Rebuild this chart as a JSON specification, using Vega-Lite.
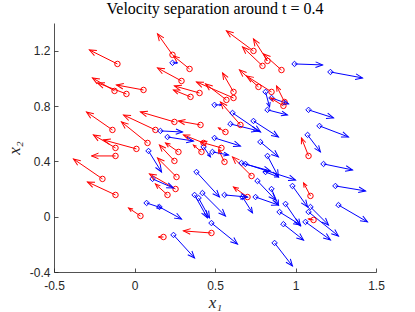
{
  "$schema": "https://vega.github.io/schema/vega-lite/v6.json",
  "width": 322,
  "height": 249,
  "autosize": {"type": "none"},
  "padding": {"left": 54, "top": 23, "right": 39, "bottom": 40},
  "title": {"text": "Velocity separation around t = 0.4", "font": "Liberation Serif", "fontSize": 16, "fontWeight": "normal", "color": "#000000", "offset": 6},
  "config": {
    "view": {"stroke": null},
    "axis": {
      "grid": false,
      "domainColor": "#262626",
      "domainWidth": 0.8,
      "tickColor": "#262626",
      "tickWidth": 0.8,
      "tickSize": -4,
      "labelFont": "Liberation Sans",
      "labelFontSize": 12,
      "labelColor": "#262626",
      "labelOverlap": false,
      "labelFlush": false,
      "titleFont": "Liberation Serif",
      "titleFontStyle": "italic",
      "titleFontWeight": "normal",
      "titleFontSize": 17,
      "titleColor": "#262626",
      "labelExpr": "replace(format(datum.value, '~g'), '−', '-')"
    }
  },
  "data": {"values": [
    {"g":"r","x":-0.106,"y":1.104,"x2":-0.280,"y2":1.205},
    {"g":"r","x":0.236,"y":1.170,"x2":0.143,"y2":1.322},
    {"g":"r","x":0.342,"y":1.068,"x2":0.242,"y2":1.162},
    {"g":"r","x":0.292,"y":0.981,"x2":0.143,"y2":1.075},
    {"g":"r","x":0.056,"y":0.916,"x2":-0.112,"y2":0.952},
    {"g":"r","x":-0.124,"y":0.909,"x2":-0.261,"y2":1.003},
    {"g":"r","x":-0.050,"y":0.887,"x2":-0.230,"y2":0.967},
    {"g":"r","x":0.404,"y":0.894,"x2":0.248,"y2":0.945},
    {"g":"r","x":0.348,"y":0.866,"x2":0.242,"y2":0.916},
    {"g":"r","x":0.739,"y":1.198,"x2":0.571,"y2":1.343},
    {"g":"r","x":0.795,"y":1.090,"x2":0.671,"y2":1.227},
    {"g":"r","x":0.826,"y":1.126,"x2":0.739,"y2":1.285},
    {"g":"r","x":0.913,"y":1.060,"x2":0.801,"y2":1.176},
    {"g":"r","x":0.770,"y":0.938,"x2":0.652,"y2":1.061},
    {"g":"r","x":0.851,"y":0.902,"x2":0.696,"y2":1.017},
    {"g":"r","x":0.615,"y":0.902,"x2":0.547,"y2":1.039},
    {"g":"r","x":0.615,"y":0.858,"x2":0.385,"y2":0.974},
    {"g":"r","x":0.571,"y":0.844,"x2":0.441,"y2":0.960},
    {"g":"r","x":-0.137,"y":0.627,"x2":-0.298,"y2":0.757},
    {"g":"r","x":0.130,"y":0.627,"x2":-0.068,"y2":0.735},
    {"g":"r","x":0.081,"y":0.533,"x2":-0.081,"y2":0.685},
    {"g":"r","x":0.248,"y":0.685,"x2":0.037,"y2":0.757},
    {"g":"r","x":0.410,"y":0.663,"x2":0.273,"y2":0.692},
    {"g":"r","x":-0.118,"y":0.497,"x2":-0.255,"y2":0.591},
    {"g":"r","x":0.012,"y":0.490,"x2":-0.193,"y2":0.555},
    {"g":"r","x":-0.118,"y":0.439,"x2":-0.267,"y2":0.439},
    {"g":"r","x":-0.199,"y":0.273,"x2":-0.379,"y2":0.417},
    {"g":"r","x":-0.118,"y":0.157,"x2":-0.292,"y2":0.251},
    {"g":"r","x":0.037,"y":0.005,"x2":-0.037,"y2":0.063},
    {"g":"r","x":0.180,"y":-0.147,"x2":0.149,"y2":-0.147},
    {"g":"r","x":0.273,"y":0.468,"x2":0.193,"y2":0.533},
    {"g":"r","x":0.248,"y":0.403,"x2":0.155,"y2":0.518},
    {"g":"r","x":0.261,"y":0.287,"x2":0.143,"y2":0.424},
    {"g":"r","x":0.255,"y":0.200,"x2":0.093,"y2":0.309},
    {"g":"r","x":0.205,"y":0.157,"x2":0.130,"y2":0.236},
    {"g":"r","x":0.478,"y":-0.118,"x2":0.304,"y2":-0.103},
    {"g":"r","x":0.416,"y":0.468,"x2":0.366,"y2":0.518},
    {"g":"r","x":0.540,"y":0.497,"x2":0.410,"y2":0.540},
    {"g":"r","x":0.559,"y":0.396,"x2":0.522,"y2":0.482},
    {"g":"r","x":0.727,"y":0.294,"x2":0.609,"y2":0.432},
    {"g":"r","x":0.702,"y":0.142,"x2":0.615,"y2":0.215},
    {"g":"r","x":1.081,"y":0.439,"x2":1.037,"y2":0.569},
    {"g":"r","x":1.093,"y":0.150,"x2":1.050,"y2":0.244},
    {"g":"r","x":1.112,"y":-0.024,"x2":1.081,"y2":-0.017},
    {"g":"r","x":0.932,"y":0.829,"x2":0.882,"y2":0.945},
    {"g":"r","x":0.925,"y":0.801,"x2":0.845,"y2":0.858},
    {"g":"r","x":0.658,"y":0.663,"x2":0.534,"y2":0.829},
    {"g":"r","x":0.565,"y":0.612,"x2":0.522,"y2":0.641},
    {"g":"r","x":0.429,"y":0.533,"x2":0.304,"y2":0.591},
    {"g":"b","x":0.236,"y":1.112,"x2":0.267,"y2":1.112},
    {"g":"b","x":0.994,"y":1.104,"x2":1.168,"y2":1.097},
    {"g":"b","x":1.217,"y":1.046,"x2":1.416,"y2":1.003},
    {"g":"b","x":0.497,"y":0.808,"x2":0.540,"y2":0.808},
    {"g":"b","x":0.814,"y":0.902,"x2":0.839,"y2":0.793},
    {"g":"b","x":0.851,"y":0.858,"x2":0.957,"y2":0.815},
    {"g":"b","x":0.826,"y":0.772,"x2":0.950,"y2":0.735},
    {"g":"b","x":1.081,"y":0.772,"x2":1.236,"y2":0.714},
    {"g":"b","x":1.149,"y":0.656,"x2":1.329,"y2":0.576},
    {"g":"b","x":1.075,"y":0.591,"x2":1.155,"y2":0.468},
    {"g":"b","x":0.609,"y":0.750,"x2":0.783,"y2":0.612},
    {"g":"b","x":0.739,"y":0.692,"x2":0.894,"y2":0.576},
    {"g":"b","x":0.596,"y":0.670,"x2":0.770,"y2":0.620},
    {"g":"b","x":0.161,"y":0.620,"x2":0.298,"y2":0.612},
    {"g":"b","x":0.205,"y":0.576,"x2":0.366,"y2":0.547},
    {"g":"b","x":0.497,"y":0.569,"x2":0.658,"y2":0.511},
    {"g":"b","x":0.782,"y":0.540,"x2":0.894,"y2":0.432},
    {"g":"b","x":0.429,"y":0.504,"x2":0.472,"y2":0.432},
    {"g":"b","x":0.484,"y":0.468,"x2":0.584,"y2":0.446},
    {"g":"b","x":0.087,"y":0.475,"x2":0.168,"y2":0.323},
    {"g":"b","x":0.112,"y":0.273,"x2":0.242,"y2":0.207},
    {"g":"b","x":0.075,"y":0.099,"x2":0.168,"y2":0.063},
    {"g":"b","x":0.155,"y":0.070,"x2":0.292,"y2":-0.017},
    {"g":"b","x":0.242,"y":-0.132,"x2":0.373,"y2":-0.299},
    {"g":"b","x":0.385,"y":0.323,"x2":0.528,"y2":0.142},
    {"g":"b","x":0.373,"y":0.157,"x2":0.453,"y2":-0.009},
    {"g":"b","x":0.398,"y":0.135,"x2":0.466,"y2":-0.009},
    {"g":"b","x":0.422,"y":0.171,"x2":0.565,"y2":0.005},
    {"g":"b","x":0.478,"y":-0.046,"x2":0.640,"y2":-0.198},
    {"g":"b","x":0.559,"y":0.157,"x2":0.702,"y2":0.142},
    {"g":"b","x":0.665,"y":0.388,"x2":0.845,"y2":0.330},
    {"g":"b","x":0.689,"y":0.381,"x2":1.000,"y2":0.265},
    {"g":"b","x":0.814,"y":0.323,"x2":0.894,"y2":0.287},
    {"g":"b","x":0.764,"y":0.258,"x2":0.876,"y2":0.121},
    {"g":"b","x":0.851,"y":0.200,"x2":0.894,"y2":0.084},
    {"g":"b","x":0.752,"y":0.142,"x2":0.894,"y2":0.084},
    {"g":"b","x":0.671,"y":0.142,"x2":0.733,"y2":0.027},
    {"g":"b","x":0.826,"y":0.439,"x2":0.894,"y2":0.289},
    {"g":"b","x":0.981,"y":0.222,"x2":1.075,"y2":0.070},
    {"g":"b","x":0.938,"y":0.092,"x2":1.031,"y2":-0.067},
    {"g":"b","x":0.901,"y":0.034,"x2":1.031,"y2":-0.060},
    {"g":"b","x":0.925,"y":-0.054,"x2":1.050,"y2":-0.169},
    {"g":"b","x":0.870,"y":-0.190,"x2":0.981,"y2":-0.357},
    {"g":"b","x":1.093,"y":0.070,"x2":1.205,"y2":-0.060},
    {"g":"b","x":1.081,"y":0.034,"x2":1.267,"y2":-0.140},
    {"g":"b","x":1.062,"y":-0.038,"x2":1.217,"y2":-0.168},
    {"g":"b","x":1.174,"y":0.381,"x2":1.354,"y2":0.338},
    {"g":"b","x":1.248,"y":0.222,"x2":1.435,"y2":0.186},
    {"g":"b","x":1.267,"y":0.084,"x2":1.447,"y2":-0.038}
  ]},
  "transform": [
    {"calculate": "(datum.x2 - datum.x) * 161", "as": "sx"},
    {"calculate": "(datum.y2 - datum.y) * 138.33", "as": "sy"},
    {"calculate": "atan2(datum.sx, datum.sy) * 180 / PI", "as": "ang"},
    {"calculate": "sqrt(datum.sx * datum.sx + datum.sy * datum.sy)", "as": "len"},
    {"calculate": "pow(2 * min(7, max(2, 0.3 * datum.len)), 2)", "as": "hs"}
  ],
  "layer": [
    {
      "mark": {"type": "rule", "strokeWidth": 1},
      "encoding": {
        "x": {"field": "x", "type": "quantitative", "scale": {"domain": [-0.5, 1.5], "nice": false, "zero": false},
              "axis": {"values": [-0.5, 0, 0.5, 1, 1.5], "title": "x₁", "labelPadding": 12, "titlePadding": 3}},
        "y": {"field": "y", "type": "quantitative", "scale": {"domain": [-0.4, 1.4], "nice": false, "zero": false},
              "axis": {"values": [-0.4, -0.2, 0, 0.2, 0.4, 0.6, 0.8, 1, 1.2, 1.4], "title": "x₂", "labelPadding": 8, "titlePadding": 6}},
        "x2": {"field": "x2"},
        "y2": {"field": "y2"},
        "color": {"field": "g", "type": "nominal", "scale": {"domain": ["r", "b"], "range": ["#ff0000", "#0000ff"]}, "legend": null}
      }
    },
    {
      "mark": {"type": "point", "filled": false, "strokeWidth": 1, "opacity": 1},
      "encoding": {
        "x": {"field": "x", "type": "quantitative", "scale": {"domain": [-0.5, 1.5], "nice": false, "zero": false}},
        "y": {"field": "y", "type": "quantitative", "scale": {"domain": [-0.4, 1.4], "nice": false, "zero": false}},
        "shape": {"field": "g", "type": "nominal", "scale": {"domain": ["r", "b"], "range": ["circle", "diamond"]}, "legend": null},
        "size": {"value": 30},
        "color": {"field": "g", "type": "nominal", "scale": {"domain": ["r", "b"], "range": ["#ff0000", "#0000ff"]}, "legend": null}
      }
    },
    {
      "mark": {"type": "point", "filled": false, "strokeWidth": 1, "opacity": 1, "shape": "M -0.4 1 L 0 0 L 0.4 1"},
      "encoding": {
        "x": {"field": "x2", "type": "quantitative", "scale": {"domain": [-0.5, 1.5], "nice": false, "zero": false}},
        "y": {"field": "y2", "type": "quantitative", "scale": {"domain": [-0.4, 1.4], "nice": false, "zero": false}},
        "angle": {"field": "ang", "type": "quantitative", "scale": null},
        "size": {"field": "hs", "type": "quantitative", "scale": null},
        "color": {"field": "g", "type": "nominal", "scale": {"domain": ["r", "b"], "range": ["#ff0000", "#0000ff"]}, "legend": null}
      }
    }
  ]
}
